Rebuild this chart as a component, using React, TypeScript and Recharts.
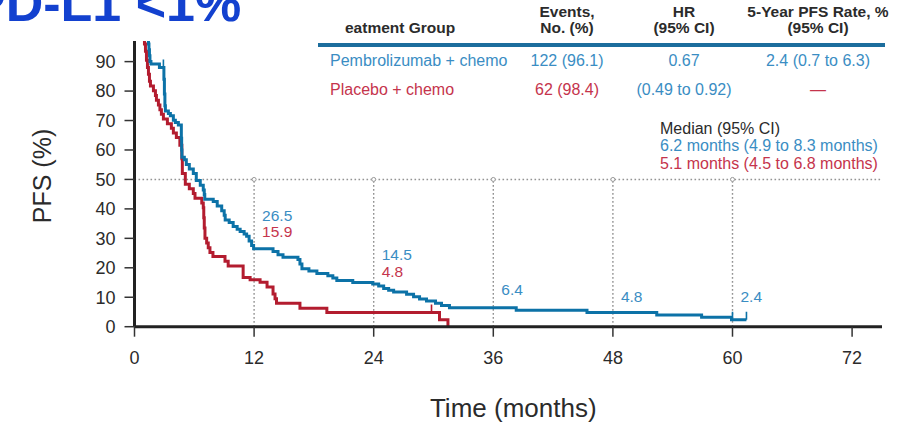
import React from "react";
import {
  ComposedChart,
  Line,
  Scatter,
  XAxis,
  YAxis,
  ReferenceLine,
  ReferenceDot,
  Label,
} from "recharts";

// Kaplan-Meier steps as [month, PFS %]
const pembroSteps: [number, number][] = [
  [0, 100], [0.6, 99.2], [1.0, 98.4], [1.3, 97.6], [1.4, 96], [1.45, 94], [1.5, 92],
  [1.55, 90], [1.65, 89.2], [2.5, 88.0], [2.95, 84], [3.0, 79], [3.05, 75], [3.1, 73.2],
  [3.4, 72.4], [3.6, 71.6], [3.9, 70.1], [4.1, 69.3], [4.4, 68.5], [4.7, 64], [4.73, 60],
  [4.76, 57.5], [5.0, 56.7], [5.2, 55.1], [5.5, 53.5], [5.9, 52], [6.2, 49.6], [6.6, 48],
  [6.9, 46.4], [7.0, 44.9], [7.05, 43.3], [7.9, 42.5], [8.3, 41], [8.75, 39.4], [9.0, 37.8],
  [9.1, 36.2], [9.5, 35.4], [9.9, 34], [10.3, 33.1], [10.6, 32.3], [11.0, 31.5],
  [11.25, 30.7], [11.5, 29.1], [11.75, 27.6], [11.95, 26.5], [13.9, 25.5], [14.4, 24.4],
  [14.9, 23.6], [16.4, 22.8], [16.6, 21.3], [16.8, 19.7], [17.5, 18.9], [18.3, 18.1],
  [19.4, 17.3], [19.9, 16.5], [20.3, 15.7], [21.9, 15.0], [23.9, 14.5], [24.5, 13.8],
  [25.0, 13.0], [25.5, 12.4], [26.0, 11.8], [27.3, 11.0], [28.0, 10.2], [28.6, 9.4],
  [29.3, 8.7], [30.2, 8.0], [30.8, 7.2], [31.6, 6.4], [38.3, 5.6], [45.4, 4.8],
  [52.4, 4.0], [56.9, 3.2], [59.9, 2.4], [61.4, 2.4],
];

const placeboSteps: [number, number][] = [
  [0, 100], [0.7, 99.2], [0.9, 97.6], [1.0, 96], [1.1, 93.5], [1.2, 90.5], [1.3, 88],
  [1.4, 85.7], [1.5, 83.3], [1.6, 81.7], [1.9, 80.1], [2.1, 78.5], [2.2, 76.9], [2.4, 75.3],
  [2.55, 73.7], [2.7, 72.1], [2.9, 70.5], [3.3, 68.9], [3.7, 67.4], [3.9, 65.8], [4.2, 64.2],
  [4.55, 61.6], [4.75, 57], [4.8, 52], [5.1, 48.4], [5.5, 46.8], [5.9, 45.2], [6.07, 43.6],
  [6.75, 42], [6.9, 40.4], [6.95, 37], [7.0, 33.5], [7.07, 30], [7.24, 28.4], [7.4, 26.8],
  [7.57, 25.2], [7.87, 23.8], [9.08, 22.2], [9.4, 20.6], [10.9, 16.7], [11.6, 15.9],
  [12.6, 15.1], [13.3, 13.5], [13.9, 11.1], [14.1, 9.5], [14.25, 8.0], [16.6, 6.3],
  [19.3, 4.8], [30.6, 2.4], [31.45, 0],
];

const pembroCensored: [number, number][] = [[2.9, 88], [60.0, 2.4], [61.4, 2.4]];
const placeboCensored: [number, number][] = [[29.8, 4.8]];

const monthTicks = [0, 12, 24, 36, 48, 60, 72];
const pfsTicks = [0, 10, 20, 30, 40, 50, 60, 70, 80, 90];

// landmark PFS rates printed next to the dotted verticals
const landmarkMonths = [12, 24, 36, 48, 60];
const pembroLandmark = [26.5, 14.5, 6.4, 4.8, 2.4];
const placeboLandmark = [15.9, 4.8];

const groups = ["Pembrolizumab + chemo", "Placebo + chemo"];
const events = ["122 (96.1)", "62 (98.4)"];
const hrText = ["0.67", "(0.49 to 0.92)"];
const fiveYear = ["2.4 (0.7 to 6.3)", "\u2014"];
const medianText = [
  "Median (95% CI)",
  "6.2 months (4.9 to 8.3 months)",
  "5.1 months (4.5 to 6.8 months)",
];

// where the landmark numbers sit, in PFS units
const pembroLabelAt = [37.9, 24.4, 12.8, 10.1, 10.1];
const placeboLabelAt = [32.2, 18.6];

const BLUE = "#0c72a7";
const RED = "#b31c2f";
const BLUE_TXT = "#3a8dc3";
const RED_TXT = "#c5344c";
const INK = "#2b2b2b";
const GRID = "#939393";
const FONT = "'Liberation Sans', Arial, sans-serif";

const toRows = (steps: [number, number][]) =>
  steps.map(([month, pfs]) => ({ month, pfs }));

const censorTick = (color: string) => (p: any) => (
  <line
    x1={p.cx}
    x2={p.cx}
    y1={p.cy}
    y2={p.cy - 8}
    stroke={color}
    strokeWidth={1.6}
  />
);

function Txt({
  x,
  y,
  children,
  center,
  lh = 18,
  style,
}: {
  x: number;
  y: number;
  children: React.ReactNode;
  center?: boolean;
  lh?: number;
  style?: React.CSSProperties;
}) {
  return (
    <div
      style={{
        position: "absolute",
        left: x,
        top: y - lh / 2,
        height: lh,
        lineHeight: `${lh}px`,
        whiteSpace: "nowrap",
        fontFamily: FONT,
        fontSize: 16,
        transform: center ? "translateX(-50%)" : undefined,
        ...style,
      }}
    >
      {children}
    </div>
  );
}

export default function App() {
  const head: React.CSSProperties = { fontWeight: 700, color: INK, fontSize: 15.5 };
  const landmarkLabel = (value: number, color: string) => ({
    value: String(value),
    position: "right" as const,
    offset: 8,
    fill: color,
    fontSize: 15.5,
    fontFamily: FONT,
  });

  return (
    <div
      style={{
        position: "fixed",
        left: 0,
        top: 0,
        width: 897,
        height: 424,
        background: "#fff",
        overflow: "hidden",
      }}
    >
      <ComposedChart
        width={897}
        height={424}
        margin={{ top: 41, right: 15, bottom: 0, left: 0 }}
      >
        <XAxis
          dataKey="month"
          type="number"
          domain={[0, 75]}
          ticks={monthTicks}
          height={97.3}
          axisLine={{ stroke: "#222", strokeWidth: 3 }}
          tickLine={{ stroke: "#333", strokeWidth: 1.5 }}
          tickSize={10}
          tickMargin={15}
          tick={{ fill: INK, fontSize: 18, fontFamily: FONT }}
        >
          <Label
            value="Time (months)"
            position="insideBottom"
            offset={7}
            dx={5}
            fill={INK}
            fontSize={26}
            fontFamily={FONT}
          />
        </XAxis>
        <YAxis
          type="number"
          domain={[0, 97]}
          allowDataOverflow
          ticks={pfsTicks}
          width={134.5}
          axisLine={{ stroke: "#222", strokeWidth: 3 }}
          tickLine={{ stroke: "#333", strokeWidth: 1.5 }}
          tickSize={10}
          tickMargin={9}
          tick={{ fill: INK, fontSize: 18, fontFamily: FONT }}
        >
          <Label
            content={() => (
              <text
                x={42}
                y={176}
                transform="rotate(-90 42 176)"
                textAnchor="middle"
                dominantBaseline="central"
                fill={INK}
                fontSize={25}
                fontFamily={FONT}
              >
                PFS (%)
              </text>
            )}
          />
        </YAxis>

        <ReferenceLine
          y={50}
          stroke={GRID}
          strokeWidth={1.4}
          strokeDasharray="1.6 2.4"
        />
        {landmarkMonths.map((m) => (
          <ReferenceLine
            key={`v${m}`}
            segment={[
              { x: m, y: 0 },
              { x: m, y: 50 },
            ]}
            stroke={GRID}
            strokeWidth={1.4}
            strokeDasharray="1.6 2.4"
          />
        ))}
        {landmarkMonths.map((m) => (
          <ReferenceDot
            key={`o${m}`}
            x={m}
            y={50}
            r={2}
            fill="#fff"
            stroke="#999"
            strokeWidth={1}
          />
        ))}

        <Line
          data={toRows(placeboSteps)}
          dataKey="pfs"
          type="stepAfter"
          stroke={RED}
          strokeWidth={3}
          dot={false}
          isAnimationActive={false}
        />
        <Line
          data={toRows(pembroSteps)}
          dataKey="pfs"
          type="stepAfter"
          stroke={BLUE}
          strokeWidth={3}
          dot={false}
          isAnimationActive={false}
        />
        <Scatter
          data={toRows(placeboCensored)}
          dataKey="pfs"
          shape={censorTick(RED)}
          isAnimationActive={false}
        />
        <Scatter
          data={toRows(pembroCensored)}
          dataKey="pfs"
          shape={censorTick(BLUE)}
          isAnimationActive={false}
        />

        {landmarkMonths.map((m, i) => (
          <ReferenceDot
            key={`pl${m}`}
            x={m}
            y={pembroLabelAt[i]}
            r={0}
            fill="none"
            stroke="none"
            label={landmarkLabel(pembroLandmark[i], BLUE_TXT)}
          />
        ))}
        {placeboLandmark.map((v, i) => (
          <ReferenceDot
            key={`rl${i}`}
            x={landmarkMonths[i]}
            y={placeboLabelAt[i]}
            r={0}
            fill="none"
            stroke="none"
            label={landmarkLabel(v, RED_TXT)}
          />
        ))}
      </ComposedChart>

      {/* title, cut by the top edge */}
      <div
        style={{
          position: "absolute",
          left: -29,
          top: -23,
          fontFamily: FONT,
          fontWeight: 700,
          fontSize: 52,
          lineHeight: "52px",
          color: "#1341cf",
          whiteSpace: "nowrap",
        }}
      >
        PD-L1 &lt;1%
      </div>

      {/* summary table */}
      <Txt x={345} y={27} lh={15} style={head}>eatment Group</Txt>
      <Txt x={567} y={11} lh={15} center style={head}>Events,</Txt>
      <Txt x={567} y={27} lh={15} center style={head}>No. (%)</Txt>
      <Txt x={684} y={11} lh={15} center style={head}>HR</Txt>
      <Txt x={684} y={27} lh={15} center style={head}>(95% CI)</Txt>
      <Txt x={818} y={11} lh={15} center style={head}>5-Year PFS Rate, %</Txt>
      <Txt x={818} y={27} lh={15} center style={head}>(95% CI)</Txt>
      <div
        style={{
          position: "absolute",
          left: 318,
          top: 43,
          width: 567,
          height: 4,
          background: "#1c6d9d",
        }}
      />
      {groups.map((g, i) => {
        const y = i === 0 ? 61 : 90;
        const c = i === 0 ? BLUE_TXT : RED_TXT;
        return (
          <React.Fragment key={g}>
            <Txt x={330} y={y} style={{ color: c }}>{g}</Txt>
            <Txt x={567} y={y} center style={{ color: c }}>{events[i]}</Txt>
            <Txt x={684} y={y} center style={{ color: BLUE_TXT }}>{hrText[i]}</Txt>
            <Txt x={818} y={y} center style={{ color: c }}>{fiveYear[i]}</Txt>
          </React.Fragment>
        );
      })}

      {/* medians */}
      {medianText.map((t, i) => (
        <Txt
          key={t}
          x={660}
          y={128 + i * 17.5}
          lh={17}
          style={{ color: i === 0 ? INK : i === 1 ? BLUE_TXT : RED_TXT }}
        >
          {t}
        </Txt>
      ))}
    </div>
  );
}
